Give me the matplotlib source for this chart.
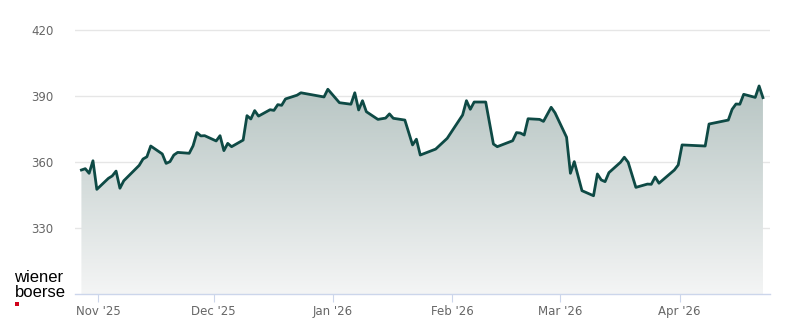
import numpy as np
import pandas as pd
import matplotlib
matplotlib.use("Agg")
import matplotlib.pyplot as plt
import matplotlib.dates as mdates
from matplotlib.colors import LinearSegmentedColormap

# Closing prices (trading days)

dates = [
    "2025-10-27", "2025-10-28", "2025-10-29", "2025-10-30", "2025-10-31",
    "2025-11-03", "2025-11-04", "2025-11-05", "2025-11-06", "2025-11-07",
    "2025-11-11", "2025-11-12", "2025-11-13", "2025-11-14",
    "2025-11-17", "2025-11-18", "2025-11-19", "2025-11-20", "2025-11-21",
    "2025-11-24", "2025-11-25", "2025-11-26", "2025-11-27", "2025-11-28",
    "2025-12-01", "2025-12-02", "2025-12-03", "2025-12-04", "2025-12-05",
    "2025-12-08", "2025-12-09", "2025-12-10", "2025-12-11", "2025-12-12",
    "2025-12-15", "2025-12-16", "2025-12-17", "2025-12-18", "2025-12-19",
    "2025-12-22", "2025-12-23", "2025-12-29", "2025-12-30",
    "2026-01-02", "2026-01-05", "2026-01-06", "2026-01-07", "2026-01-08",
    "2026-01-09", "2026-01-12", "2026-01-14", "2026-01-15", "2026-01-16",
    "2026-01-19", "2026-01-21", "2026-01-22", "2026-01-23",
    "2026-01-27", "2026-01-30",
    "2026-02-03", "2026-02-04", "2026-02-05", "2026-02-06",
    "2026-02-09", "2026-02-11", "2026-02-12",
    "2026-02-16", "2026-02-17", "2026-02-18", "2026-02-19", "2026-02-20",
    "2026-02-23", "2026-02-24", "2026-02-26", "2026-02-27",
    "2026-03-02", "2026-03-03", "2026-03-04", "2026-03-06",
    "2026-03-09", "2026-03-10", "2026-03-11", "2026-03-12", "2026-03-13",
    "2026-03-16", "2026-03-17", "2026-03-18", "2026-03-20",
    "2026-03-23", "2026-03-24", "2026-03-25", "2026-03-26",
    "2026-03-30", "2026-03-31", "2026-04-01",
    "2026-04-07", "2026-04-08",
    "2026-04-13", "2026-04-14", "2026-04-15", "2026-04-16", "2026-04-17",
    "2026-04-20", "2026-04-21", "2026-04-22",
]

prices = [
    356.5, 357.1, 355.0, 360.7, 347.7,
    352.7, 353.8, 356.0, 348.2, 351.6,
    358.6, 361.5, 362.5, 367.4,
    363.8, 359.5, 360.3, 363.3, 364.5,
    364.1, 367.5, 373.5, 372.0, 372.1,
    369.7, 372.1, 365.3, 368.6, 367.1,
    370.1, 381.2, 379.7, 383.5, 381.0,
    383.9, 383.6, 386.2, 385.9, 388.8,
    390.5, 391.6, 389.7, 393.2,
    387.1, 386.4, 391.6, 383.8, 388.0,
    383.0, 379.5, 380.1, 382.0, 380.0,
    379.2, 367.9, 370.5, 363.3,
    366.0, 370.9,
    381.5, 388.0, 384.1, 387.4,
    387.4, 368.3, 367.1,
    369.8, 373.5, 373.3, 372.4, 379.8,
    379.5, 378.6, 385.0, 382.5,
    371.4, 355.0, 360.3, 347.1,
    344.8, 354.7, 352.0, 351.2, 355.3,
    360.0, 362.3, 360.0, 348.6,
    350.1, 350.0, 353.3, 350.5,
    356.5, 358.8, 367.9,
    367.4, 377.4,
    379.2, 384.1, 386.5, 386.4, 390.9,
    389.5, 394.7, 389.4,
]

y_ticks = [330, 360, 390, 420]
x_ticks = ["2025-11-01", "2025-12-01", "2026-01-01", "2026-02-01", "2026-03-01", "2026-04-01"]
x_tick_labels = ["Nov '25", "Dec '25", "Jan '26", "Feb '26", "Mar '26", "Apr '26"]

# closing prices are stamped late afternoon
df = pd.DataFrame({"date": pd.to_datetime(dates) + pd.Timedelta(hours=16), "price": prices})

LINE_COLOR = "#0e4a45"
AXIS_COLOR = "#ccd6eb"
GRID_COLOR = "#e6e6e6"
LABEL_COLOR = "#666666"

W, H = 800, 324
fig = plt.figure(figsize=(W / 100, H / 100), dpi=100)
ax = fig.add_axes([75 / W, 29.7 / H, 695 / W, (294.3 - 10) / H])

x = mdates.date2num(df["date"])
y = df["price"].values

ymin = 300
ymax = 390 + (96.3 - 10) / 2.2
xmin = mdates.date2num(pd.Timestamp("2025-10-26 00:00"))
xmax = mdates.date2num(pd.Timestamp("2026-04-24 12:00"))
ax.set_xlim(xmin, xmax)
ax.set_ylim(ymin, ymax)

# gradient fill under the line
cmap = LinearSegmentedColormap.from_list("area", ["#f4f5f5", "#b7c5c3"])
grad = np.linspace(0, 1, 256).reshape(-1, 1)
img = ax.imshow(grad, cmap=cmap, aspect="auto", origin="lower",
                extent=[x.min(), x.max(), ymin, y.max()], zorder=1)
poly = ax.fill_between(x, y, ymin, facecolor="none", edgecolor="none")
clip_path = poly.get_paths()[0]
img.set_clip_path(clip_path, transform=ax.transData)

ax.plot(x, y, color=LINE_COLOR, lw=2, zorder=3, solid_joinstyle="round")

# grid
for v in y_ticks:
    ax.axhline(v, color=GRID_COLOR, lw=1, zorder=0)

ax.set_yticks(y_ticks)
ax.set_yticklabels([str(v) for v in y_ticks])
ax.set_xticks(mdates.date2num(pd.to_datetime(x_ticks)))
ax.set_xticklabels(x_tick_labels)

ax.tick_params(axis="y", length=0, pad=15.5, labelsize=8.5, labelcolor=LABEL_COLOR)
ax.tick_params(axis="x", length=6, width=0.8, color=AXIS_COLOR, pad=2,
               labelsize=8.5, labelcolor=LABEL_COLOR)

for side in ["top", "right", "left"]:
    ax.spines[side].set_visible(False)
ax.spines["bottom"].set_color(AXIS_COLOR)
ax.spines["bottom"].set_linewidth(1)
ax.spines["bottom"].set_zorder(4)
ax.set_facecolor("white")

# logo
fig.text(14.5 / W, 1 - 281.7 / H, "wiener", fontsize=12, family="Liberation Sans",
         color="black", va="baseline", ha="left")
fig.text(14.5 / W, 1 - 297 / H, "boerse", fontsize=12, family="Liberation Sans",
         color="black", va="baseline", ha="left")
fig.patches.append(plt.Rectangle((15 / W, 1 - 305.7 / H), 4 / W, 3.6 / H,
                                 transform=fig.transFigure, facecolor="#d0021b",
                                 edgecolor="none"))

fig.savefig("out.png", dpi=100)
